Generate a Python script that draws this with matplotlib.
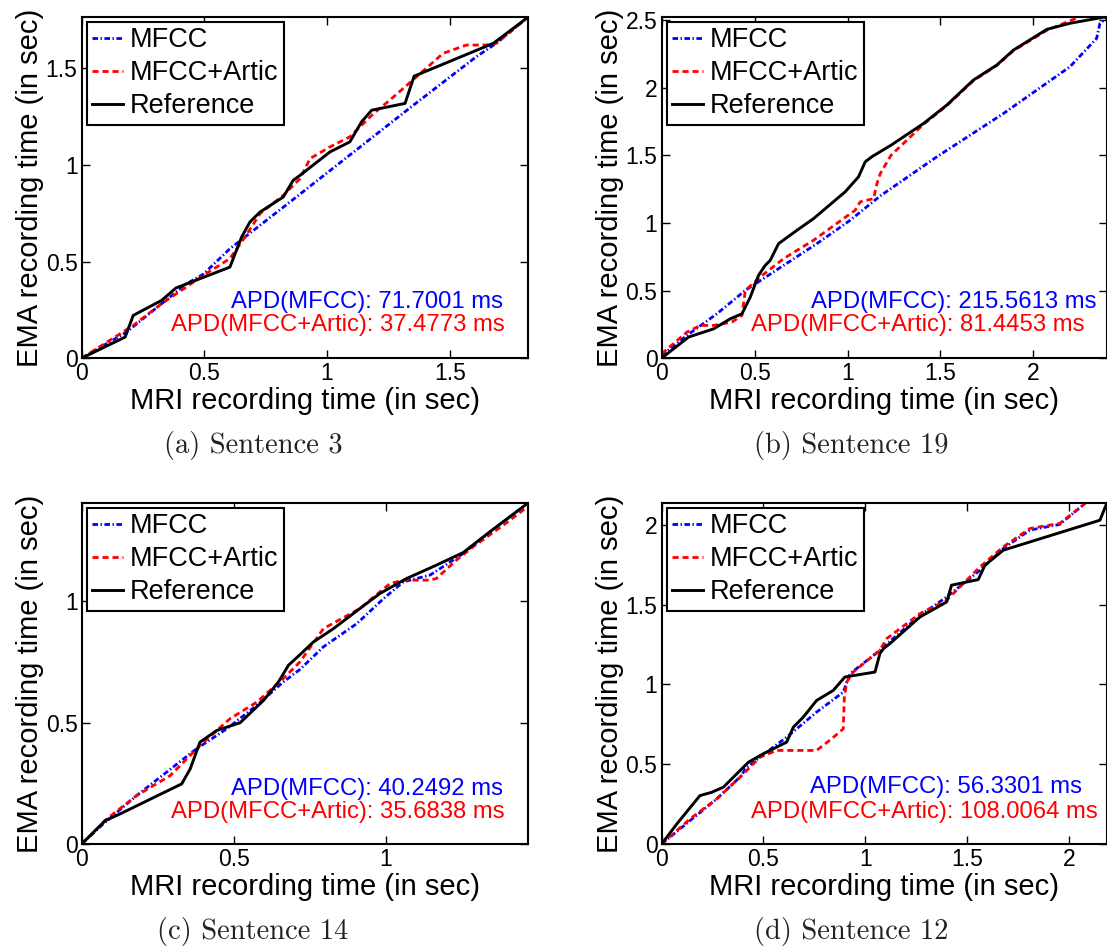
import numpy as np
import matplotlib
matplotlib.use("Agg")
import matplotlib.pyplot as plt
from matplotlib.ticker import FuncFormatter

# ---- data (seconds) ----
# (a) Sentence 3
a_ref_x = [0, 0.177, 0.21, 0.326, 0.384, 0.604, 0.652, 0.686, 0.727, 0.822, 0.862, 0.89, 1.012, 1.093, 1.141, 1.182, 1.318, 1.355, 1.678, 1.818]
a_ref_y = [0, 0.109, 0.221, 0.299, 0.363, 0.471, 0.627, 0.705, 0.756, 0.834, 0.92, 0.946, 1.067, 1.119, 1.223, 1.283, 1.318, 1.459, 1.629, 1.763]
a_art_x = [0, 0.21, 0.326, 0.496, 0.604, 0.666, 0.727, 0.822, 0.89, 0.931, 1.012, 1.093, 1.19, 1.256, 1.365, 1.473, 1.568, 1.65, 1.69, 1.818]
a_art_y = [0, 0.169, 0.282, 0.428, 0.515, 0.627, 0.748, 0.843, 0.929, 1.033, 1.093, 1.145, 1.266, 1.335, 1.456, 1.577, 1.62, 1.62, 1.629, 1.763]
a_mfcc_x = [0, 0.183, 0.326, 0.428, 0.496, 0.604, 0.849, 1.352, 1.609, 1.69, 1.818]
a_mfcc_y = [0, 0.135, 0.282, 0.385, 0.435, 0.566, 0.808, 1.309, 1.56, 1.629, 1.763]
a_apd = ("APD(MFCC): 71.7001 ms", "APD(MFCC+Artic): 37.4773 ms")

# (b) Sentence 19
b_ref_x = [0, 0.145, 0.28, 0.369, 0.432, 0.477, 0.521, 0.557, 0.584, 0.629, 0.728, 0.817, 0.987, 1.059, 1.095, 1.131, 1.234, 1.409, 1.534, 1.677, 1.803, 1.893, 2.072, 2.197, 2.394]
b_ref_y = [0, 0.156, 0.217, 0.291, 0.328, 0.452, 0.612, 0.686, 0.723, 0.847, 0.946, 1.032, 1.23, 1.341, 1.452, 1.49, 1.575, 1.736, 1.872, 2.057, 2.168, 2.279, 2.432, 2.477, 2.526]
b_art_x = [0, 0.136, 0.208, 0.28, 0.378, 0.432, 0.45, 0.53, 0.656, 0.817, 0.978, 1.041, 1.068, 1.14, 1.158, 1.176, 1.234, 1.409, 1.534, 1.677, 1.803, 1.893, 2.072, 2.251, 2.394]
b_art_y = [0.032, 0.193, 0.242, 0.242, 0.267, 0.316, 0.501, 0.6, 0.736, 0.872, 1.032, 1.094, 1.156, 1.18, 1.291, 1.365, 1.501, 1.73, 1.868, 2.052, 2.165, 2.275, 2.425, 2.526, 2.56]
b_mfcc_x = [0, 0.136, 0.297, 0.45, 0.656, 0.835, 1.014, 1.176, 1.48, 1.839, 2.197, 2.34, 2.358, 2.394]
b_mfcc_y = [0.02, 0.168, 0.328, 0.501, 0.686, 0.847, 1.02, 1.2, 1.489, 1.81, 2.156, 2.365, 2.477, 2.514]
b_apd = ("APD(MFCC): 215.5613 ms", "APD(MFCC+Artic): 81.4453 ms")

# (c) Sentence 14
c_ref_x = [0, 0.077, 0.126, 0.329, 0.357, 0.389, 0.444, 0.521, 0.598, 0.647, 0.68, 0.713, 0.762, 0.828, 0.915, 0.981, 1.069, 1.167, 1.255, 1.343, 1.467]
c_ref_y = [0, 0.096, 0.124, 0.248, 0.31, 0.42, 0.468, 0.5, 0.592, 0.668, 0.737, 0.775, 0.833, 0.888, 0.971, 1.033, 1.095, 1.15, 1.202, 1.288, 1.405]
c_art_x = [0, 0.082, 0.181, 0.291, 0.389, 0.488, 0.576, 0.663, 0.718, 0.795, 0.915, 1.014, 1.058, 1.146, 1.167, 1.233, 1.288, 1.387, 1.467]
c_art_y = [0, 0.103, 0.2, 0.282, 0.406, 0.517, 0.585, 0.682, 0.751, 0.888, 0.971, 1.074, 1.088, 1.088, 1.095, 1.171, 1.226, 1.315, 1.391]
c_mfcc_x = [0, 0.071, 0.181, 0.378, 0.477, 0.576, 0.663, 0.718, 0.795, 0.905, 0.993, 1.058, 1.146, 1.255, 1.365, 1.467]
c_mfcc_y = [0, 0.083, 0.2, 0.393, 0.475, 0.572, 0.668, 0.72, 0.813, 0.909, 1.012, 1.081, 1.109, 1.198, 1.308, 1.405]
c_apd = ("APD(MFCC): 40.2492 ms", "APD(MFCC+Artic): 35.6838 ms")

# (d) Sentence 12
d_ref_x = [0, 0.074, 0.188, 0.246, 0.303, 0.352, 0.426, 0.499, 0.614, 0.647, 0.696, 0.761, 0.843, 0.9, 1.048, 1.072, 1.089, 1.121, 1.269, 1.4, 1.424, 1.555, 1.588, 1.678, 2.153, 2.186]
d_ref_y = [0, 0.125, 0.303, 0.324, 0.356, 0.418, 0.512, 0.565, 0.638, 0.732, 0.795, 0.899, 0.962, 1.046, 1.077, 1.192, 1.223, 1.255, 1.422, 1.516, 1.621, 1.656, 1.746, 1.84, 2.028, 2.133]
d_art_x = [0, 0.139, 0.27, 0.385, 0.483, 0.565, 0.761, 0.835, 0.892, 0.897, 0.909, 0.941, 1.072, 1.105, 1.269, 1.4, 1.564, 1.678, 1.809, 1.956, 2.071, 2.12]
d_art_y = [0, 0.157, 0.282, 0.418, 0.544, 0.586, 0.586, 0.659, 0.721, 0.91, 1.014, 1.077, 1.213, 1.286, 1.443, 1.527, 1.736, 1.861, 1.976, 2.008, 2.123, 2.19]
d_mfcc_x = [0, 0.139, 0.27, 0.393, 0.41, 0.483, 0.614, 0.761, 0.892, 0.925, 1.072, 1.089, 1.269, 1.4, 1.564, 1.678, 1.809, 1.956, 2.079, 2.12]
d_mfcc_y = [0, 0.146, 0.282, 0.429, 0.47, 0.544, 0.669, 0.826, 0.951, 1.066, 1.213, 1.234, 1.432, 1.547, 1.715, 1.851, 1.966, 2.002, 2.133, 2.19]
d_apd = ("APD(MFCC): 56.3301 ms", "APD(MFCC+Artic): 108.0064 ms")

captions = ["(a) Sentence 3", "(b) Sentence 19", "(c) Sentence 14", "(d) Sentence 12"]
xlims = [1.818, 2.394, 1.467, 2.186]
ylims = [1.767, 2.526, 1.407, 2.137]

panels = [
    (a_mfcc_x, a_mfcc_y, a_art_x, a_art_y, a_ref_x, a_ref_y, a_apd),
    (b_mfcc_x, b_mfcc_y, b_art_x, b_art_y, b_ref_x, b_ref_y, b_apd),
    (c_mfcc_x, c_mfcc_y, c_art_x, c_art_y, c_ref_x, c_ref_y, c_apd),
    (d_mfcc_x, d_mfcc_y, d_art_x, d_art_y, d_ref_x, d_ref_y, d_apd),
]

# layout (figure fractions) and text placement
positions = [
    [0.0738, 0.6234, 0.4029, 0.3591],
    [0.5977, 0.6234, 0.4020, 0.3591],
    [0.0738, 0.1125, 0.4029, 0.3588],
    [0.5977, 0.1125, 0.4020, 0.3588],
]
apd_x = [(0.945, 0.949), (0.978, 0.951), (0.945, 0.949), (0.945, 0.981)]
apd_y = [(0.164, 0.096), (0.164, 0.096), (0.161, 0.093), (0.166, 0.093)]
cap_pos = [(0.2286, 0.532), (0.7687, 0.532), (0.2286, 0.021), (0.7687, 0.021)]

plt.rcParams['font.family'] = ['Liberation Sans', 'DejaVu Sans']

fig = plt.figure(figsize=(11.07, 9.51), dpi=100)
fmt = FuncFormatter(lambda v, p: "%g" % v)

for i, (mx, my, ax_, ay, rx, ry, apd) in enumerate(panels):
    ax = fig.add_axes(positions[i])
    ax.plot(mx, my, color="#0000ff", lw=2.0, linestyle=(0, (2.0, 0.9, 0.5, 0.9)), label="MFCC")
    ax.plot(ax_, ay, color="#ff0000", lw=2.0, linestyle=(0, (2.2, 1.4)), label="MFCC+Artic")
    ax.plot(rx, ry, color="black", lw=2.1, label="Reference")
    ax.set_xlim(0, xlims[i])
    ax.set_ylim(0, ylims[i])
    ax.xaxis.set_major_formatter(fmt)
    ax.yaxis.set_major_formatter(fmt)
    ax.set_xticks(np.arange(0, xlims[i], 0.5))
    ax.set_yticks(np.arange(0, ylims[i] + 0.01, 0.5))
    ax.tick_params(direction="in", top=True, right=True, length=6, width=1, labelsize=16.5, pad=3)
    for s in ax.spines.values():
        s.set_linewidth(1.5)
    ax.set_xlabel("MRI recording time (in sec)", fontsize=21, labelpad=1)
    ax.set_ylabel("EMA recording time (in sec)", fontsize=21, labelpad=1)
    leg = ax.legend(loc="upper left", bbox_to_anchor=(0.011, 0.985), borderaxespad=0,
                    fontsize=19.5, handlelength=1.15, handletextpad=0.25, borderpad=0.2,
                    labelspacing=0.26, fancybox=False, framealpha=1)
    leg.get_frame().set_edgecolor("black")
    leg.get_frame().set_linewidth(1.5)
    ax.text(apd_x[i][0], apd_y[i][0], apd[0], color="#0000ff", fontsize=17.2,
            ha="right", va="center", transform=ax.transAxes)
    ax.text(apd_x[i][1], apd_y[i][1], apd[1], color="#ff0000", fontsize=17.2,
            ha="right", va="center", transform=ax.transAxes)
    fig.text(cap_pos[i][0], cap_pos[i][1], captions[i], fontsize=20.5,
             family=["cmr10", "DejaVu Serif"], ha="center", va="center", color="#222222")

fig.savefig("out.png", dpi=100)
